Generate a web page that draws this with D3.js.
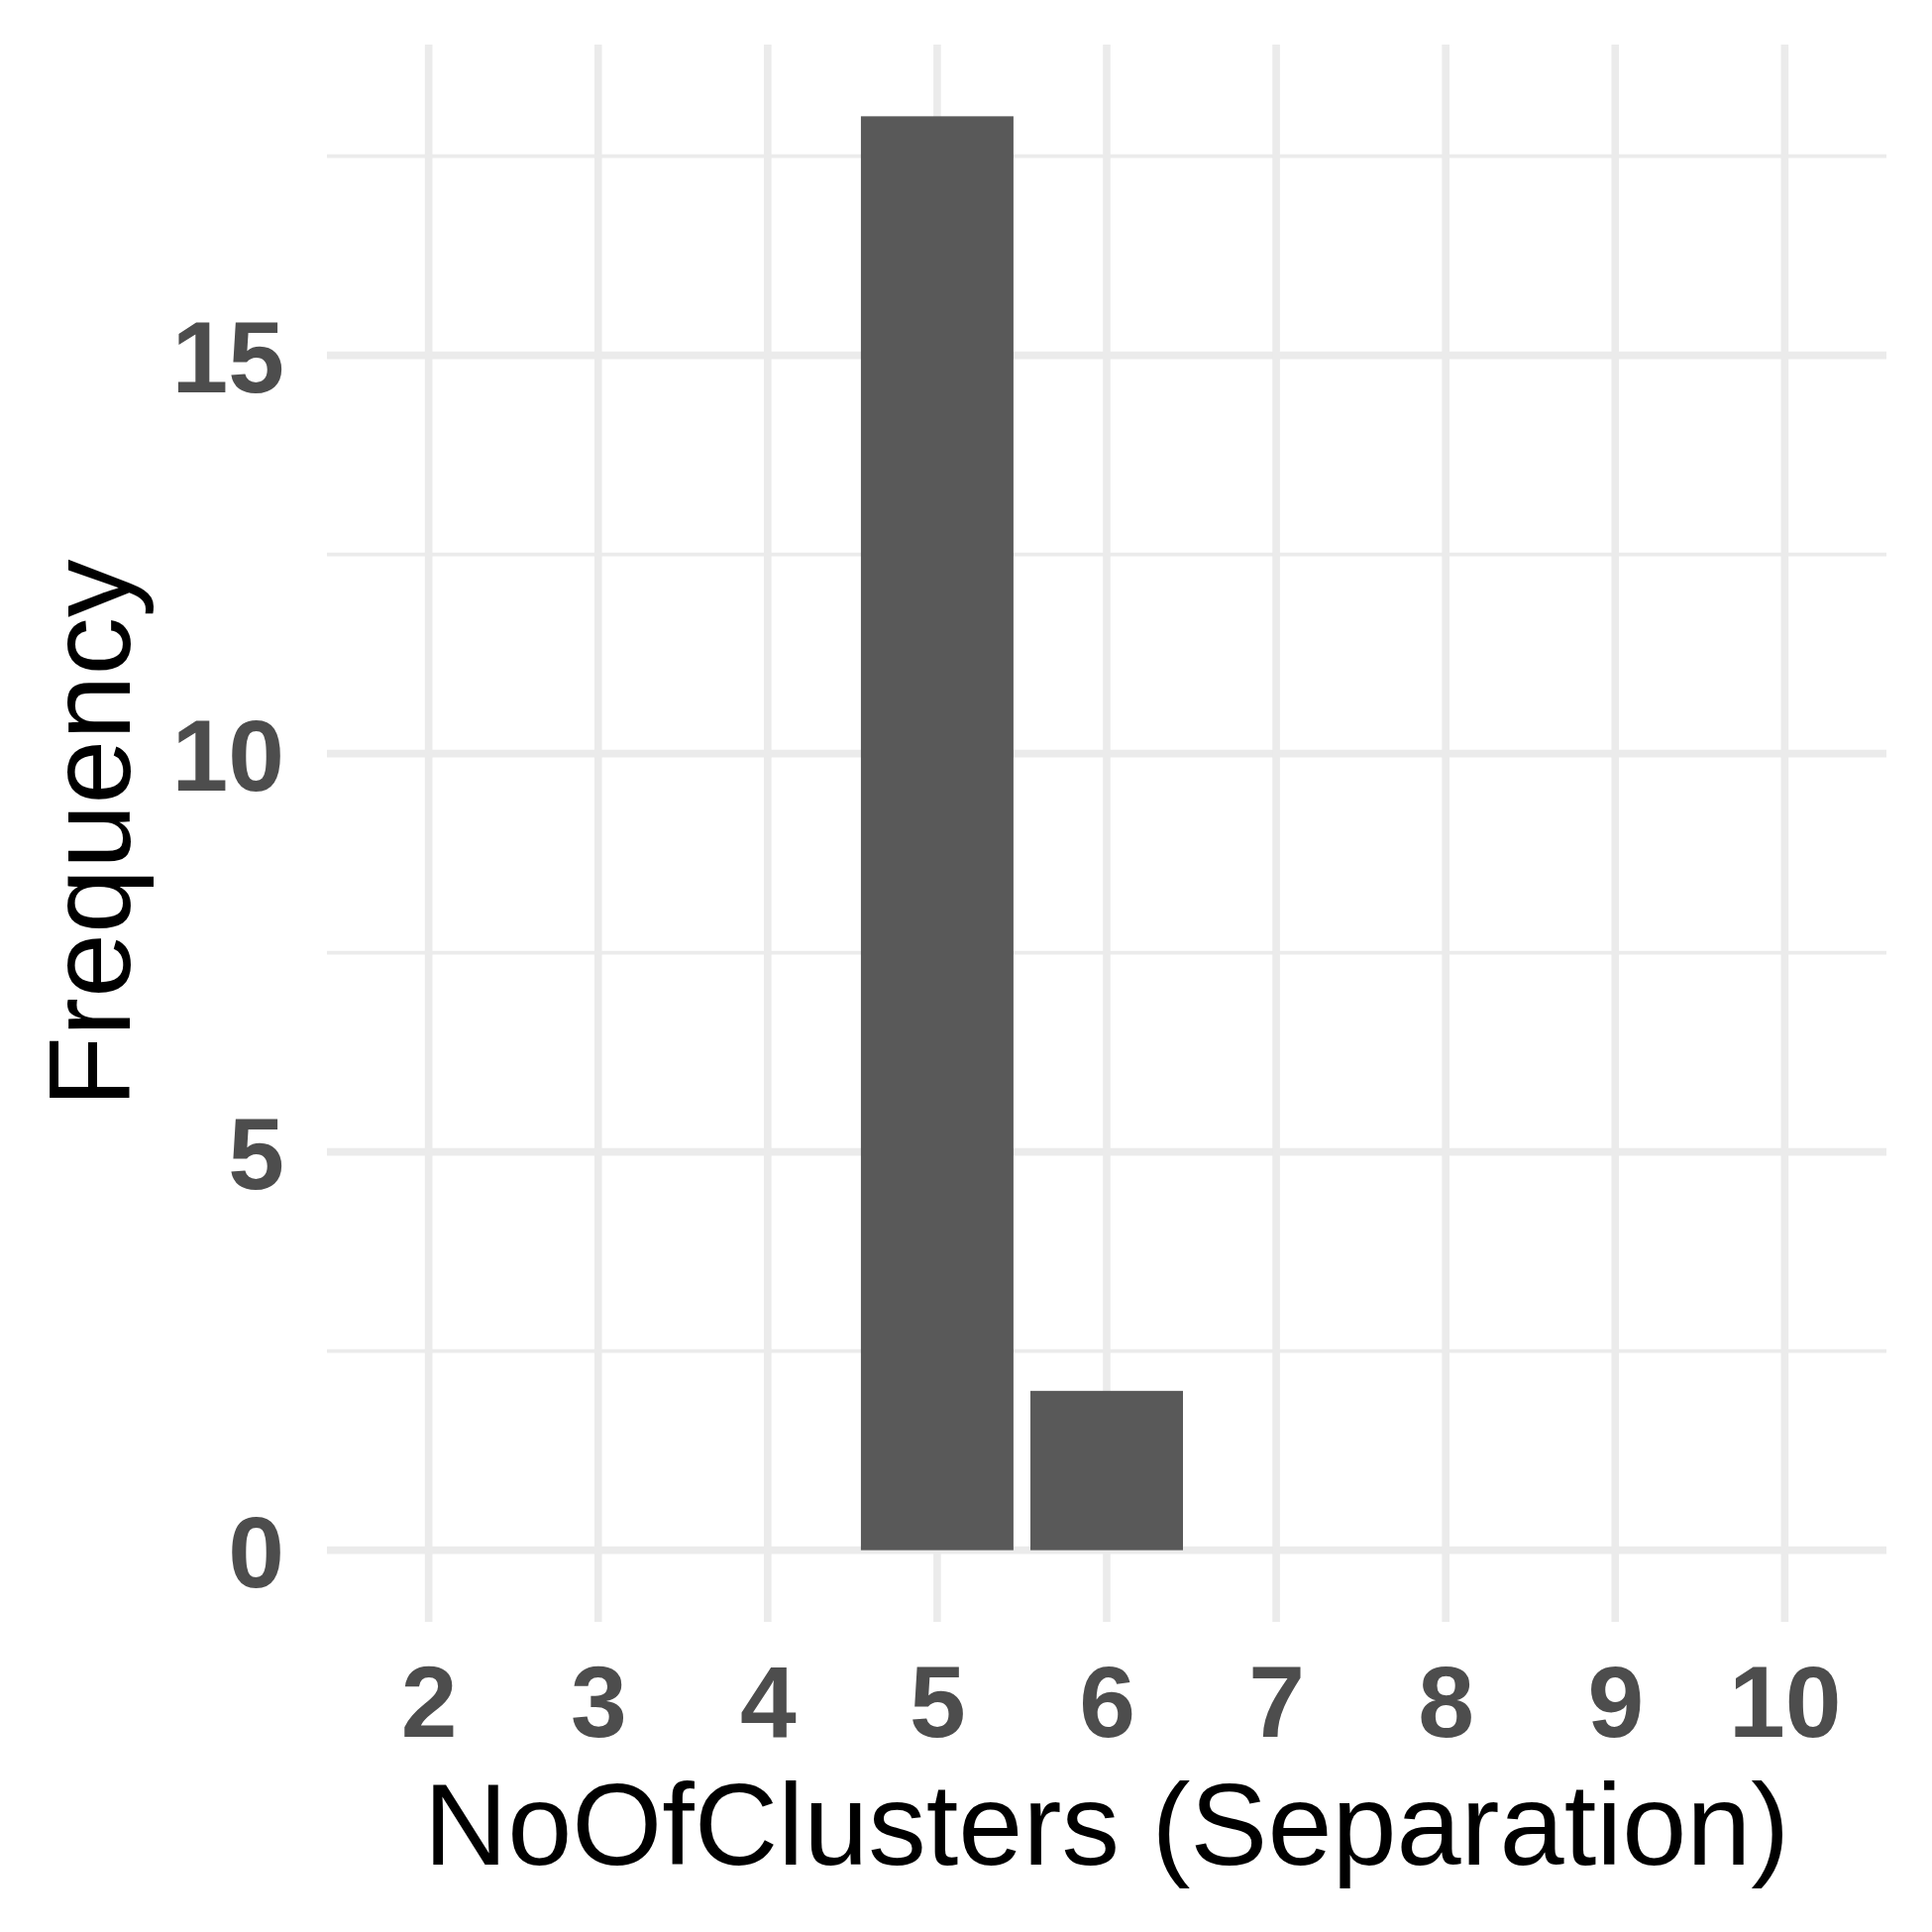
<!DOCTYPE html>
<html>
<head>
<meta charset="utf-8">
<script src="https://cdn.jsdelivr.net/npm/d3@7"></script>
<style>
  html, body { margin: 0; padding: 0; background: #ffffff; }
  svg { display: block; }
</style>
</head>
<body>
<script>
const clusters = [5, 6];
const counts = [18, 2];
const xTicks = [2, 3, 4, 5, 6, 7, 8, 9, 10];
const yTicks = [0, 5, 10, 15];
const yMinorTicks = [2.5, 7.5, 12.5, 17.5];
const xTitle = "NoOfClusters (Separation)";
const yTitle = "Frequency";

const W = 1950, H = 1950;
const panel = { left: 330, right: 1904, top: 45, bottom: 1637 };

const svg = d3.select("body").append("svg").attr("width", W).attr("height", H);
svg.append("rect").attr("width", W).attr("height", H).attr("fill", "#ffffff");

const x = d3.scaleLinear().domain([1.4, 10.6]).range([panel.left, panel.right]);
const y = d3.scaleLinear().domain([-0.9, 18.9]).range([panel.bottom, panel.top]);

const grid = svg.append("g");
grid.selectAll("line.ymin").data(yMinorTicks).join("line")
  .attr("x1", panel.left).attr("x2", panel.right)
  .attr("y1", d => y(d)).attr("y2", d => y(d))
  .attr("stroke", "#EBEBEB").attr("stroke-width", 3.8);
grid.selectAll("line.ymaj").data(yTicks).join("line")
  .attr("x1", panel.left).attr("x2", panel.right)
  .attr("y1", d => y(d)).attr("y2", d => y(d))
  .attr("stroke", "#EBEBEB").attr("stroke-width", 7.6);
grid.selectAll("line.xmaj").data(xTicks).join("line")
  .attr("y1", panel.top).attr("y2", panel.bottom)
  .attr("x1", d => x(d)).attr("x2", d => x(d))
  .attr("stroke", "#EBEBEB").attr("stroke-width", 7.6);

const data = clusters.map((c, i) => ({ c, n: counts[i] }));
svg.append("g").selectAll("rect").data(data).join("rect")
  .attr("x", d => x(d.c - 0.45))
  .attr("width", d => x(d.c + 0.45) - x(d.c - 0.45))
  .attr("y", d => y(d.n))
  .attr("height", d => y(0) - y(d.n))
  .attr("fill", "#595959");

const font = "'Liberation Sans', Arial, sans-serif";

// y axis labels
const yAxis = d3.axisLeft(y).tickValues(yTicks).tickSize(0).tickPadding(43).tickFormat(d3.format("d"));
const gy = svg.append("g").attr("transform", `translate(${panel.left},0)`).call(yAxis);
gy.select(".domain").remove();
gy.selectAll("text")
  .attr("font-family", font).attr("font-weight", "bold")
  .attr("font-size", 102).attr("fill", "#4D4D4D")
  .attr("dy", "0.36em");

// x axis labels
const xAxis = d3.axisBottom(x).tickValues(xTicks).tickSize(0).tickPadding(0).tickFormat(d3.format("d"));
const gx = svg.append("g").attr("transform", `translate(0,${panel.bottom})`).call(xAxis);
gx.select(".domain").remove();
gx.selectAll("text")
  .attr("font-family", font).attr("font-weight", "bold")
  .attr("font-size", 102).attr("fill", "#4D4D4D")
  .attr("y", 116).attr("dy", 0);

// titles
svg.append("text")
  .attr("x", (panel.left + panel.right) / 2).attr("y", 1882)
  .attr("text-anchor", "middle")
  .attr("font-family", font).attr("font-size", 117).attr("fill", "#000000")
  .text(xTitle);

svg.append("text")
  .attr("transform", `translate(131,${(panel.top + panel.bottom) / 2}) rotate(-90)`)
  .attr("text-anchor", "middle")
  .attr("font-family", font).attr("font-size", 117).attr("fill", "#000000")
  .text(yTitle);
</script>
</body>
</html>
